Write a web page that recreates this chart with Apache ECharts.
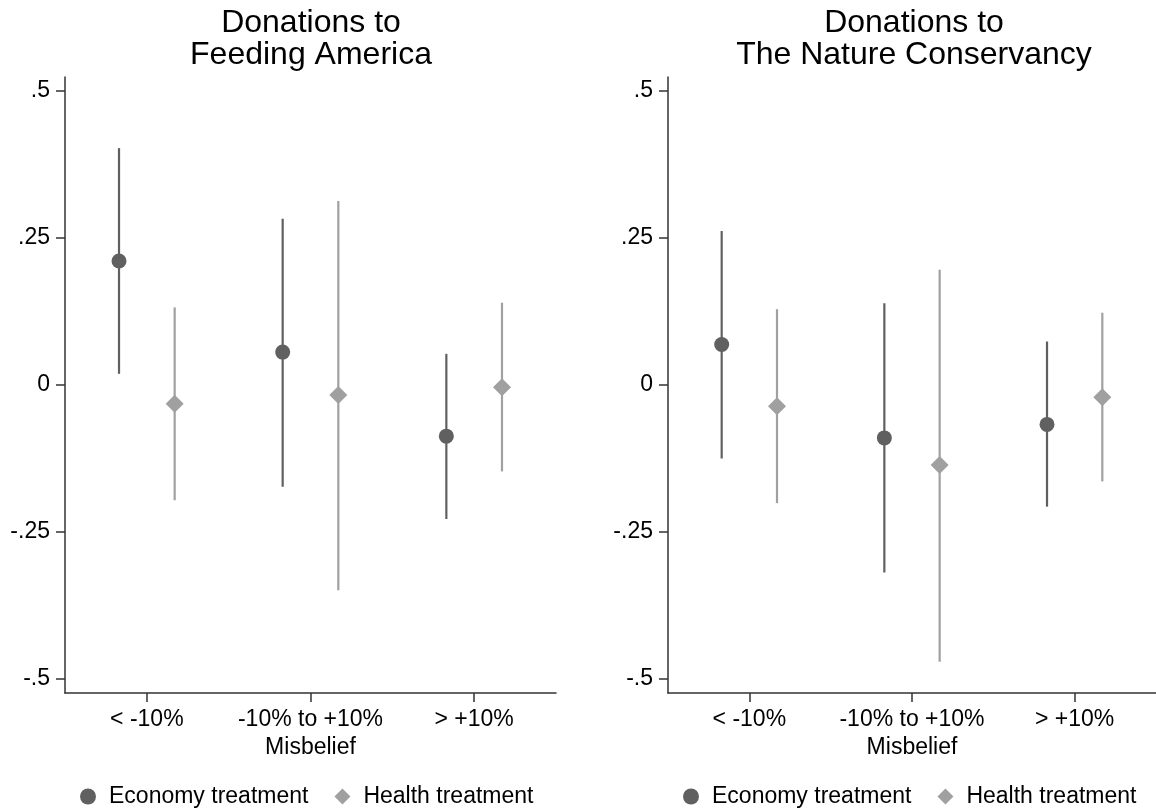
<!DOCTYPE html>
<html lang="en">
<head>
    <meta charset="UTF-8">
    <title>Donations by misbelief</title>
    <script src="https://cdn.jsdelivr.net/npm/echarts@6/dist/echarts.min.js"></script>
    <style>
        body { margin: 0; background: #fff; }
    </style>
</head>
<body>
    <div id="myChart" style="width: 1156px;height: 811px;"></div>
    <script>
        // categories on the x axis
        var categories = ['< -10%', '-10% to +10%', '> +10%'];
        var yTicks = [-0.5, -0.25, 0, 0.25, 0.5];
        var yTickLabels = ['-.5', '-.25', '0', '.25', '.5'];

        // Feeding America
        var faEconPoint = [0.211, 0.056, -0.087];
        var faEconLo = [0.019, -0.173, -0.228];
        var faEconHi = [0.403, 0.283, 0.053];
        var faHealthPoint = [-0.032, -0.017, -0.004];
        var faHealthLo = [-0.196, -0.349, -0.147];
        var faHealthHi = [0.132, 0.313, 0.140];

        // The Nature Conservancy
        var ncEconPoint = [0.069, -0.090, -0.067];
        var ncEconLo = [-0.125, -0.319, -0.207];
        var ncEconHi = [0.262, 0.139, 0.074];
        var ncHealthPoint = [-0.036, -0.136, -0.021];
        var ncHealthLo = [-0.201, -0.471, -0.164];
        var ncHealthHi = [0.129, 0.196, 0.123];

        var econColor = '#606060';
        var healthColor = '#a0a0a0';
        var shift = 0.17;
        var font = "'Liberation Sans', Arial, Helvetica, sans-serif";

        function points(vals, off) {
            return vals.map(function (v, i) { return [i + 1 + off, v]; });
        }
        function bars(lo, hi, off) {
            return lo.map(function (v, i) { return [i + 1 + off, v, hi[i]]; });
        }
        function ciSeries(idx, data, color) {
            return {
                type: 'custom',
                name: 'ci',
                xAxisIndex: idx, yAxisIndex: idx,
                encode: { x: 0, y: [1, 2] },
                data: data,
                z: 1,
                silent: true,
                renderItem: function (params, api) {
                    var a = api.coord([api.value(0), api.value(1)]);
                    var b = api.coord([api.value(0), api.value(2)]);
                    return {
                        type: 'line',
                        shape: { x1: a[0], y1: a[1], x2: b[0], y2: b[1] },
                        style: { stroke: color, lineWidth: 2.2 }
                    };
                }
            };
        }
        function xAxis(idx) {
            return {
                type: 'value', gridIndex: idx, min: 0.5, max: 3.5,
                name: 'Misbelief', nameLocation: 'middle', nameGap: 37,
                nameTextStyle: { fontSize: 23, color: '#000', fontFamily: font },
                axisLine: { onZero: false, lineStyle: { color: '#333', width: 1.5 } },
                axisTick: { customValues: [1, 2, 3], length: 9, lineStyle: { color: '#333', width: 1.5 } },
                axisLabel: {
                    customValues: [1, 2, 3], margin: 15, fontSize: 23, color: '#000', fontFamily: font,
                    formatter: function (v) { return categories[Math.round(v) - 1]; }
                },
                splitLine: { show: false }
            };
        }
        function yAxis(idx) {
            return {
                type: 'value', gridIndex: idx, min: -0.524, max: 0.524,
                axisLine: { show: true, onZero: false, lineStyle: { color: '#333', width: 1.5 } },
                axisTick: { show: true, customValues: yTicks, length: 9, lineStyle: { color: '#333', width: 1.5 } },
                axisLabel: {
                    customValues: yTicks, margin: 15, fontSize: 23, color: '#000', fontFamily: font,
                    formatter: function (v) {
                        for (var i = 0; i < yTicks.length; i++) {
                            if (Math.abs(yTicks[i] - v) < 1e-6) return yTickLabels[i];
                        }
                        return '';
                    }
                },
                splitLine: { show: false }
            };
        }
        function legend(left) {
            return {
                left: left, top: 785, padding: 0,
                itemWidth: 16, itemHeight: 16, itemGap: 26,
                selectedMode: false,
                textStyle: { fontSize: 23, color: '#000', fontFamily: font, padding: [0, 0, 0, 8] },
                data: [
                    { name: 'Economy treatment', icon: 'circle', itemStyle: { color: econColor } },
                    { name: 'Health treatment', icon: 'diamond', itemStyle: { color: healthColor } }
                ]
            };
        }

        var myChart = echarts.init(document.getElementById('myChart'));
        var option = {
            backgroundColor: '#fff',
            animation: false,
            title: [
                { text: 'Donations to\nFeeding America', left: 311, top: 7, padding: 0, textAlign: 'center',
                  textStyle: { fontSize: 32, fontWeight: 'normal', color: '#000', fontFamily: font, lineHeight: 32 } },
                { text: 'Donations to\nThe Nature Conservancy', left: 914, top: 7, padding: 0, textAlign: 'center',
                  textStyle: { fontSize: 32, fontWeight: 'normal', color: '#000', fontFamily: font, lineHeight: 32 } }
            ],
            legend: [legend(80), legend(683)],
            grid: [
                { left: 65, top: 77, width: 491, height: 616 },
                { left: 668, top: 77, width: 492, height: 616 }
            ],
            xAxis: [xAxis(0), xAxis(1)],
            yAxis: [yAxis(0), yAxis(1)],
            series: [
                ciSeries(0, bars(faEconLo, faEconHi, -shift), econColor),
                ciSeries(0, bars(faHealthLo, faHealthHi, shift), healthColor),
                ciSeries(1, bars(ncEconLo, ncEconHi, -shift), econColor),
                ciSeries(1, bars(ncHealthLo, ncHealthHi, shift), healthColor),
                { type: 'scatter', name: 'Economy treatment', xAxisIndex: 0, yAxisIndex: 0, z: 3,
                  symbol: 'circle', symbolSize: 15, itemStyle: { color: econColor, opacity: 1 },
                  data: points(faEconPoint, -shift) },
                { type: 'scatter', name: 'Health treatment', xAxisIndex: 0, yAxisIndex: 0, z: 3,
                  symbol: 'diamond', symbolSize: 18, itemStyle: { color: healthColor, opacity: 1 },
                  data: points(faHealthPoint, shift) },
                { type: 'scatter', name: 'Economy treatment', xAxisIndex: 1, yAxisIndex: 1, z: 3,
                  symbol: 'circle', symbolSize: 15, itemStyle: { color: econColor, opacity: 1 },
                  data: points(ncEconPoint, -shift) },
                { type: 'scatter', name: 'Health treatment', xAxisIndex: 1, yAxisIndex: 1, z: 3,
                  symbol: 'diamond', symbolSize: 18, itemStyle: { color: healthColor, opacity: 1 },
                  data: points(ncHealthPoint, shift) }
            ]
        };

        myChart.setOption(option);
    </script>
</body>
</html>
